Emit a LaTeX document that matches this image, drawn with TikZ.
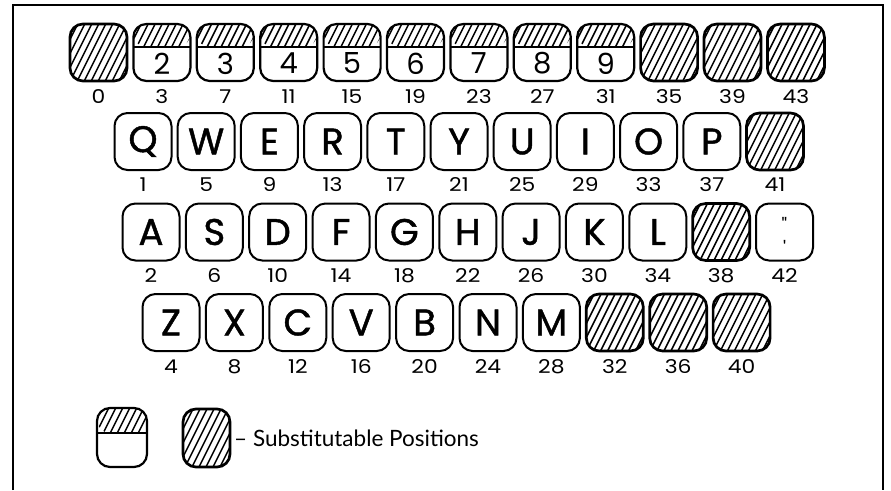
\documentclass[tikz,border=0pt]{standalone}
\usepackage{fontspec}
\setmainfont{Poppins}
\newfontfamily\keyfont{Poppins}[FakeBold=1.2]
\newfontfamily\digfont{Poppins}
\newfontfamily\numfont{Poppins}[FakeStretch=1.15]
\newfontfamily\legfont{Lato}
\usetikzlibrary{calc}
\tikzset{
  keybase/.style={draw, rounded corners=13pt, minimum width=57pt, minimum height=57pt,
    inner sep=0pt, line width=2pt, font=\keyfont\fontsize{37}{37}\selectfont},
  hatchset/.style={line width=1.5pt},
  fullkey/.style={keybase, line width=2.7pt, path picture={
      \foreach \d in {-56,-49,...,56}{
        \draw[hatchset] ([xshift=\d pt]path picture bounding box.center) ++(-20pt,-40pt) -- ++(40pt,80pt);
      }}},
  halfkey/.style={keybase, line width=2.2pt, path picture={
      \begin{scope}
        \clip (path picture bounding box.north west) rectangle ([yshift=-#1]path picture bounding box.north east);
        \foreach \d in {-56,-49,...,56}{
          \draw[hatchset] ([xshift=\d pt]path picture bounding box.center) ++(-20pt,-40pt) -- ++(40pt,80pt);
        }
      \end{scope}
      \draw[line width=2.6pt] ([yshift=-#1]path picture bounding box.north west) -- ([yshift=-#1]path picture bounding box.north east);
    }},
  halfkey/.default=23pt,
  numlab/.style={inner sep=0pt, font=\numfont\fontsize{19}{19}\selectfont},
  digitlab/.style={inner sep=0pt, font=\digfont\fontsize{29}{29}\selectfont},
  quotelab/.style={inner sep=0pt, anchor=north, font=\digfont\fontsize{19}{19}\selectfont},
  frameline/.style={line width=2.5pt}
}
\begin{document}
\begin{tikzpicture}[x=1pt,y=-1pt]
\useasboundingbox (0,0) rectangle (891,490);
% frame
\draw[frameline] (13,490) -- (13,5) -- (883,5) -- (883,490);

% ---- row 1 ----
\foreach \i in {0,9,10,11}
  \node[fullkey] (ra\i) at ({98.5+63.4*\i},52.5) {};
\foreach \i/\c in {1/2,2/3,3/4,4/5,5/6,6/7,7/8,8/9}{
  \node[halfkey] (ra\i) at ({98.5+63.4*\i},52.5) {};
  \node[digitlab] (rd\i) at ([yshift=-11pt]ra\i.center) {\c};
}
\node[numlab] (na0) at (98.5,97) {0};
\foreach \i in {1,...,11}{
  \pgfmathtruncatemacro{\n}{4*\i-1}
  \node[numlab] (na\i) at ({98.5+63.4*\i},97) {\n};
}

% ---- row 2 ----
\foreach \i/\c in {0/Q,1/W,2/E,3/R,4/T,5/Y,6/U,7/I,8/O,9/P}
  \node[keybase] (rb\i) at ({143+63.2*\i},141.5) {\c};
\node[fullkey] (rb10) at ({143+63.2*10},141.5) {};
\foreach \i in {0,...,10}{
  \pgfmathtruncatemacro{\n}{4*\i+1}
  \node[numlab] (nb\i) at ({143+63.2*\i},185) {\n};
}

% ---- row 3 ----
\foreach \i/\c in {0/A,1/S,2/D,3/F,4/G,5/H,6/J,7/K,8/L}
  \node[keybase] (rc\i) at ({151+63.35*\i},232) {\c};
\node[fullkey] (rc9) at ({151+63.35*9},232) {};
\node[keybase] (rc10) at ({151+63.35*10},232) {};
\node[quotelab] (rq1) at ([yshift=15pt]rc10.center) {"};
\node[quotelab] (rq2) at ([yshift=-8pt]rc10.center) {'};
\foreach \i in {0,...,10}{
  \pgfmathtruncatemacro{\n}{4*\i+2}
  \node[numlab] (nc\i) at ({151+63.35*\i},276) {\n};
}

% ---- row 4 ----
\foreach \i/\c in {0/Z,1/X,2/C,3/V,4/B,5/N,6/M}
  \node[keybase] (rd\i) at ({171+63.4*\i},322.5) {\c};
\foreach \i in {7,8,9}
  \node[fullkey] (rd\i) at ({171+63.4*\i},322.5) {};
\foreach \i in {0,...,9}{
  \pgfmathtruncatemacro{\n}{4*\i+4}
  \node[numlab] (nd\i) at ({171+63.4*\i},367) {\n};
}

% ---- legend ----
\node[halfkey=25pt, minimum width=50pt, minimum height=59pt] (lga) at (122,437.5) {};
\node[fullkey, minimum width=47pt, minimum height=58pt] (lgb) at (206.5,438) {};
\node[anchor=west, inner sep=0pt, font=\legfont\fontsize{22.5}{22.5}\selectfont] (lgt) at (234,438) {– Substitutable Positions};
\end{tikzpicture}
\end{document}
